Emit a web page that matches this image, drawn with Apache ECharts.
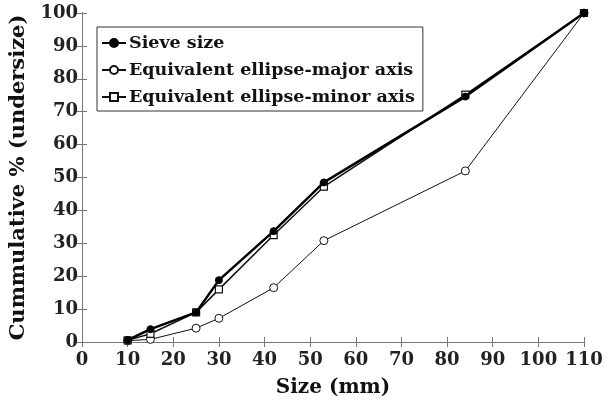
<!DOCTYPE html>
<html><head><meta charset="utf-8">
<script src="https://cdn.jsdelivr.net/npm/echarts@6/dist/echarts.min.js"></script>
<style>html,body{margin:0;padding:0;background:#fff}#c{width:613px;height:403px}</style>
</head><body><div id="c"></div>
<script>
const sizes = [10, 15, 25, 30, 42, 53, 84, 110];
const sieve = [0.6, 3.9, 9.0, 18.8, 33.7, 48.5, 74.6, 100];
const major = [0.4, 0.8, 4.2, 7.2, 16.5, 30.8, 52.0, 100];
const minor = [0.5, 2.5, 9.0, 16.0, 32.5, 47.2, 75.2, 100];
const names = ['Sieve size', 'Equivalent ellipse-major axis', 'Equivalent ellipse-minor axis'];
const xTitle = 'Size (mm)';
const yTitle = 'Cummulative % (undersize)';

const font = 'DejaVu Serif';
const chart = echarts.init(document.getElementById('c'));
const pair = (a) => sizes.map((x, i) => [x, a[i]]);
const axisLine = {show: true, lineStyle: {color: '#777', width: 1}};
const tick = {show: true, inside: true, length: 5, lineStyle: {color: '#777'}};
chart.setOption({
  animation: false,
  grid: {left: 82, right: 29, top: 13, bottom: 61},
  legend: {
    left: 97, top: 27, orient: 'vertical', itemGap: 9,
    itemWidth: 24, itemHeight: 10,
    borderColor: '#333', borderWidth: 1, padding: [7, 8, 5, 4],
    backgroundColor: '#fff',
    textStyle: {fontFamily: font, fontWeight: 'bold', fontSize: 17.5, color: '#111', padding: [0, 0, 0, -2]},
    data: names
  },
  xAxis: [{
    type: 'value', min: 0, max: 110, interval: 10, position: 'bottom',
    axisLine, axisTick: tick, splitLine: {show: false},
    axisLabel: {fontFamily: font, fontWeight: 'bold', fontSize: 18, color: '#222', margin: 9},
    name: xTitle, nameLocation: 'middle', nameGap: 36,
    nameTextStyle: {fontFamily: font, fontWeight: 'bold', fontSize: 20, color: '#111'}
  }, {
    type: 'value', min: 0, max: 110, interval: 10, position: 'top',
    axisLine, axisTick: tick, axisLabel: {show: false}, splitLine: {show: false}
  }],
  yAxis: [{
    type: 'value', min: 0, max: 100, interval: 10, position: 'left',
    axisLine, axisTick: tick, splitLine: {show: false},
    axisLabel: {fontFamily: font, fontWeight: 'bold', fontSize: 18, color: '#222', margin: 4},
    name: yTitle, nameLocation: 'middle', nameGap: 52,
    nameTextStyle: {fontFamily: font, fontWeight: 'bold', fontSize: 21, color: '#111'}
  }, {
    type: 'value', min: 0, max: 100, interval: 10, position: 'right',
    axisLine, axisTick: tick, axisLabel: {show: false}, splitLine: {show: false}
  }],
  series: [
    {name: names[1], type: 'line', data: pair(major), symbol: 'circle', symbolSize: 8,
     lineStyle: {color: '#111', width: 1}, itemStyle: {color: '#fff', borderColor: '#111', borderWidth: 1}, z: 2},
    {name: names[2], type: 'line', data: pair(minor), symbol: 'rect', symbolSize: 7,
     lineStyle: {color: '#111', width: 1.5}, itemStyle: {color: '#fff', borderColor: '#111', borderWidth: 1.2}, z: 3},
    {name: names[0], type: 'line', data: pair(sieve), symbol: 'circle', symbolSize: 7,
     lineStyle: {color: '#000', width: 2.5}, itemStyle: {color: '#000', borderColor: '#000', borderWidth: 1}, z: 4}
  ]
});
</script></body></html>
